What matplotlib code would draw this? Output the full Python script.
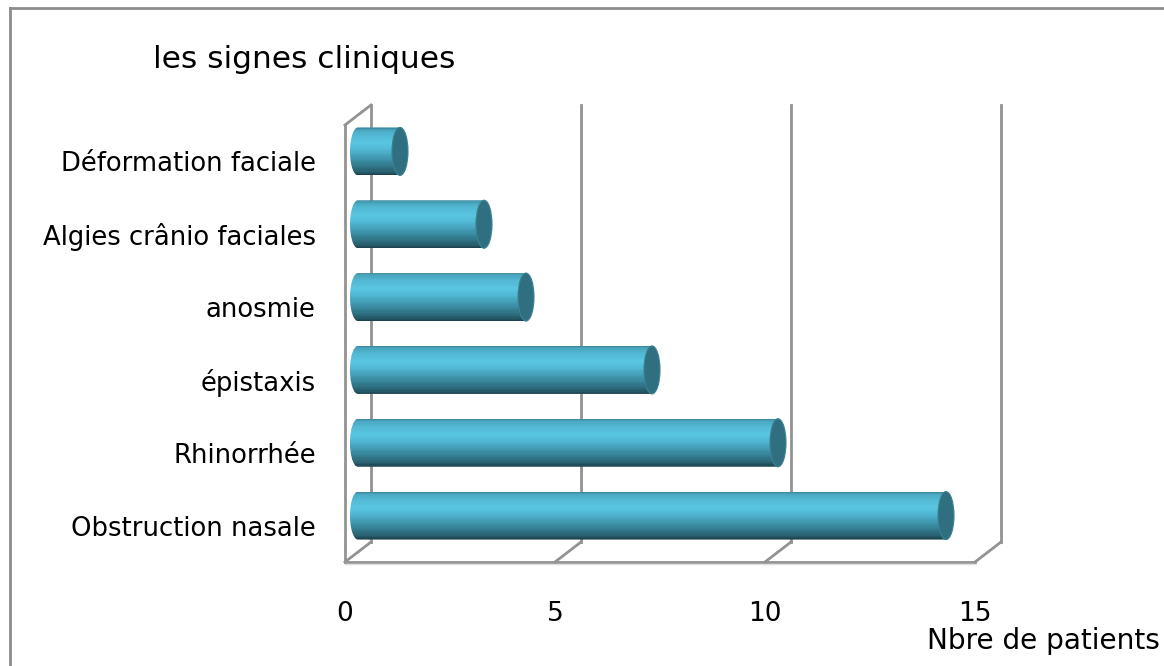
import numpy as np
from matplotlib import pyplot as plt
from matplotlib.path import Path
from matplotlib.patches import PathPatch, Ellipse
from matplotlib.lines import Line2D
from matplotlib.colors import LinearSegmentedColormap

# dati (dal basso verso l'alto)
categorie = ['Obstruction nasale', 'Rhinorrhée', 'épistaxis', 'anosmie',
             'Algies crânio faciales', 'Déformation faciale']
valori = [14, 10, 7, 4, 3, 1]
xticks = [0, 5, 10, 15]

fig = plt.figure(figsize=(11.64, 6.66), dpi=100)
ax = fig.add_axes([345/1164, 104/666, 630/1164, 437/666])
ax.set_xlim(0, 15)
ax.set_ylim(-0.5, 5.5)

# pixel per unita' (serve per l'effetto 3d)
px_x = 630/15
px_y = 437/6
DX, DY = 26/px_x, 20/px_y     # profondita' della scatola
BX, BY = 13/px_x, 10/px_y     # i cilindri stanno a meta'
h = 48/px_y                   # altezza cilindro
ew = 16/px_x                  # larghezza ellisse del tappo

grigio = '#939393'
lw = 2.0
# pareti (dietro ai cilindri)
z = 0.5
ax.plot([0, 0], [-0.5, 5.5], color=grigio, lw=lw, clip_on=False, zorder=z)
ax.plot([0, DX], [5.5, 5.5+DY], color=grigio, lw=lw, clip_on=False, zorder=z)
ax.plot([0, 15], [-0.5, -0.5], color=grigio, lw=lw, clip_on=False, zorder=z)
ax.plot([0, 15], [-0.5-1.5/px_y, -0.5-1.5/px_y], color='#dedede', lw=1, clip_on=False, zorder=z)
for v in xticks:
    ax.plot([v+DX, v+DX], [-0.5+DY, 5.5+DY], color=grigio, lw=lw, clip_on=False, zorder=z)
    ax.plot([v, v+DX], [-0.5, -0.5+DY], color=grigio, lw=lw, clip_on=False, zorder=z)

# sfumatura del cilindro
cmap = LinearSegmentedColormap.from_list('cil', [
    (0.0, '#1c4049'), (0.08, '#28606f'), (0.3, '#3a8ca2'), (0.55, '#52b9d5'),
    (0.68, '#5ac6e2'), (0.85, '#52b7d2'), (0.95, '#4aa6bf'), (1.0, '#3a8499')])
N = 40
for i, v in enumerate(valori):
    cy = i + BY
    # sagoma: rettangolo + mezza ellisse a sinistra
    th = np.linspace(np.pi/2, 3*np.pi/2, 40)
    verts = list(zip(BX + ew/2*np.cos(th), cy + h/2*np.sin(th)))
    verts += [(BX+v, cy-h/2), (BX+v, cy+h/2), (BX, cy+h/2)]
    sag = PathPatch(Path(verts), facecolor='none', edgecolor='none')
    ax.add_patch(sag)
    for k in range(N):
        b = ax.barh(cy - h/2 + k*h/N, v + ew, height=h/N*1.05, left=BX - ew,
                    align='edge', color=cmap((k+0.5)/N), linewidth=0, zorder=2)
        b[0].set_clip_path(sag)
    ax.add_patch(Ellipse((BX+v, cy), ew, h, facecolor='#2f6f80', edgecolor='#3a8193',
                         lw=0.8, zorder=3))

ax.set_yticks(range(len(categorie)))
ax.set_yticklabels(categorie, fontsize=18.6)
ax.set_xticks(xticks)
ax.set_xticklabels([str(t) for t in xticks], fontsize=19)
ax.tick_params(axis='y', length=0, pad=21)
ax.tick_params(axis='x', length=0, pad=28)
for s in ax.spines.values():
    s.set_visible(False)
ax.patch.set_visible(False)

fig.text(153/1164, 1-60/666, 'les signes cliniques', fontsize=22.5, ha='left', va='center')
fig.text(1160/1164, 1-641/666, 'Nbre de patients', fontsize=20.2, ha='right', va='center')

# cornice
fig.add_artist(Line2D([10/1164, 10/1164], [0, 1-8/666], color='#8c8c8c', lw=2))
fig.add_artist(Line2D([10/1164, 1], [1-8/666, 1-8/666], color='#8c8c8c', lw=2))

fig.savefig('out.png', dpi=100)
